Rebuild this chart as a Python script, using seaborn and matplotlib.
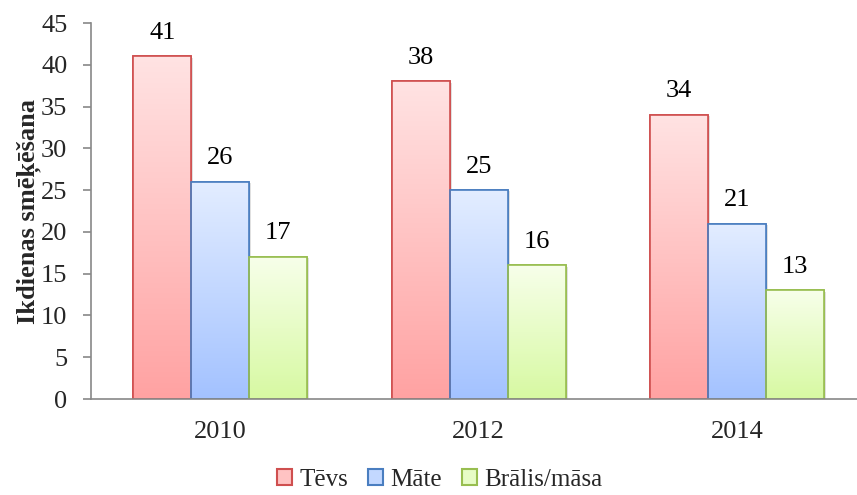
import numpy as np
import pandas as pd
import matplotlib
matplotlib.use("Agg")
import matplotlib.pyplot as plt
from matplotlib.patches import Patch
from matplotlib.colors import LinearSegmentedColormap
import seaborn as sns

years = ["2010", "2012", "2014"]
series = ["Tēvs", "Māte", "Brālis/māsa"]
tevs = [41, 38, 34]
mate = [26, 25, 21]
bralis = [17, 16, 13]

top_colors = {"Tēvs": "#FFE3E3", "Māte": "#E3EDFF", "Brālis/māsa": "#F7FFEA"}
bottom_colors = {"Tēvs": "#FFA2A2", "Māte": "#A3C2FF", "Brālis/māsa": "#D7F9A2"}
edge_colors = {"Tēvs": "#CF4F4F", "Māte": "#4A7EC0", "Brālis/māsa": "#98BE50"}

df = pd.DataFrame({
    "year": years * 3,
    "series": [s for s in series for _ in years],
    "value": tevs + mate + bralis,
})

sns.set_style("white")
plt.rcParams["font.family"] = ["Liberation Serif", "DejaVu Serif"]

fig = plt.figure(figsize=(8.57, 4.95), dpi=100)
ax = fig.add_axes([91 / 857, 96 / 495, 766 / 857, 376 / 495])

sns.barplot(data=df, x="year", y="value", hue="series", hue_order=series,
            order=years, width=0.673, gap=0, ax=ax, legend=False,
            palette=[bottom_colors[s] for s in series], saturation=1)

# gradient fill + edges
for container, s in zip(ax.containers, series):
    cmap = LinearSegmentedColormap.from_list(s, [bottom_colors[s], top_colors[s]])
    for patch, val in zip(container.patches, df[df.series == s]["value"]):
        x0 = patch.get_x()
        w = patch.get_width()
        h = patch.get_height()
        patch.set_edgecolor(edge_colors[s])
        patch.set_linewidth(1.2)
        # soft shadow
        sh = plt.Rectangle((x0 + 0.008, -0.15), w, h, facecolor="#000000", alpha=0.12,
                           edgecolor="none", zorder=patch.get_zorder() - 0.1)
        ax.add_patch(sh)
        grad = np.linspace(0, 1, 256).reshape(-1, 1)
        im = ax.imshow(grad, cmap=cmap, origin="lower", aspect="auto",
                       extent=(x0, x0 + w, 0, h), zorder=patch.get_zorder() + 0.1)
        im.set_clip_path(patch)
        edge = plt.Rectangle((x0, 0), w, h, fill=False, edgecolor=edge_colors[s],
                             linewidth=1.2, zorder=patch.get_zorder() + 0.2)
        ax.add_patch(edge)
        ax.annotate(f"{int(val)}", (x0 + w / 2, h), xytext=(0, 9),
                    textcoords="offset points", ha="center", va="bottom",
                    fontsize=19, color="black")

ax.set_xlim(-0.5, 2.463)
ax.set_ylim(0, 45)
ax.set_yticks(range(0, 46, 5))
ax.set_xticks([0, 1, 2])
ax.set_xticklabels(years)
ax.set_xticks([-0.5, 0.5, 1.5], minor=True)
ax.tick_params(axis="x", which="major", length=0, pad=16, labelsize=19)
ax.tick_params(axis="x", which="minor", length=5, width=1.2, color="#888888", direction="out")
ax.tick_params(axis="y", which="major", length=6, width=1.2, color="#888888",
               direction="out", pad=11, labelsize=19, left=True)
ax.set_xlabel("")
ax.set_ylabel("Ikdienas smēķēšana", fontsize=19, fontweight="bold", labelpad=0)

for sp in ["top", "right"]:
    ax.spines[sp].set_visible(False)
for sp in ["left", "bottom"]:
    ax.spines[sp].set_color("#888888")
    ax.spines[sp].set_linewidth(1.2)
    ax.spines[sp].set_zorder(5)

handles = []
for s in series:
    mid = (np.array(matplotlib.colors.to_rgb(top_colors[s])) +
           np.array(matplotlib.colors.to_rgb(bottom_colors[s]))) / 2
    handles.append(Patch(facecolor=mid, edgecolor=edge_colors[s], linewidth=1.5))
fig.legend(handles, series, loc="center", bbox_to_anchor=(0.513, 0.03), ncol=3,
           frameon=False, fontsize=18, handlelength=0.6, handleheight=0.6,
           handletextpad=0.3, columnspacing=0.8, borderpad=0.1)

fig.savefig("out.png", dpi=100)
